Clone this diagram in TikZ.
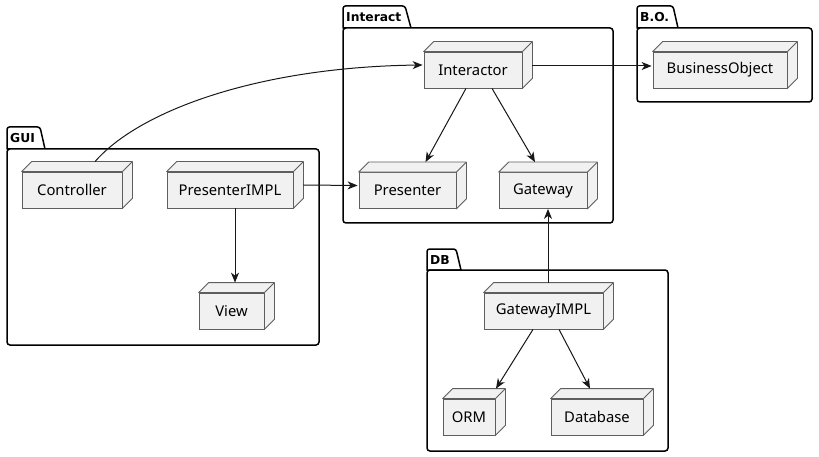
\documentclass[tikz,border=0pt]{standalone}
\usepackage{fontspec}
\setmainfont{Noto Sans}
\newfontfamily\pkgfont{DejaVu Sans}
\usetikzlibrary{arrows.meta,calc}
\definecolor{nodefill}{HTML}{F1F1F1}
\definecolor{nodeline}{HTML}{5E5E5E}
\definecolor{edgecol}{HTML}{181818}
\tikzset{
  nodebox/.style={draw=nodeline, fill=nodefill, line width=0.8pt, inner sep=0pt,
    minimum height=36pt, font=\fontsize{14.8}{17}\selectfont},
  nodeedge/.style={draw=nodeline, fill=nodefill, line width=0.8pt, line join=round},
  pkgline/.style={draw=black, line width=1.5pt, fill=white},
  pkglabel/.style={anchor=west, inner sep=0pt, font=\pkgfont\bfseries\fontsize{12.3}{15}\selectfont},
  conn/.style={draw=edgecol, line width=1pt, -{Stealth[length=10pt,width=8pt,inset=3pt]}}
}
\newcommand{\threed}[1]{%
  \draw[nodeedge] (#1.north west) -- ($(#1.north west)+(10,-10)$) -- ($(#1.north east)+(10,-10)$) -- ($(#1.south east)+(10,-10)$) -- (#1.south east) -- (#1.north east) -- cycle;
  \draw[nodeedge] (#1.north east) -- ($(#1.north east)+(10,-10)$);}
% x0, x1, ytab, ybody, ybottom, xtabtop, xtabbottom
\newcommand{\pkgshape}[7]{%
  \filldraw[pkgline] (#1,#4) [rounded corners=2.5pt]-- (#1,#3) -- (#6,#3) [sharp corners]-- (#7,#4) -- cycle;
  \filldraw[pkgline, rounded corners=3pt] (#1,#4) rectangle (#2,#5);}
\begin{document}
\begin{tikzpicture}[x=1pt,y=-1pt]
\useasboundingbox (0,0) rectangle (819,457);
% packages
\pkgshape{7}{319}{127}{149}{345}{40}{45}
\pkgshape{343}{613}{6}{28}{223}{405}{411}
\pkgshape{637}{812}{6}{28}{102}{673}{678}
\pkgshape{427}{668}{249}{270}{451}{456}{461}
\node[pkglabel] (lgui) at (10,138.5) {GUI};
\node[pkglabel] (lint) at (346,17.5) {Interact};
\node[pkglabel] (lbo) at (640,17.5) {B.O.};
\node[pkglabel] (ldb) at (430,260) {DB};
% nodes
\node[nodebox, minimum width=98pt] (interactor) at (473,70) {Interactor};
\node[nodebox, minimum width=134pt] (bo) at (720,70) {BusinessObject};
\node[nodebox, minimum width=97pt] (presenter) at (407.5,190.5) {Presenter};
\node[nodebox, minimum width=88pt] (gateway) at (543,190.5) {Gateway};
\node[nodebox, minimum width=100pt] (controller) at (72,190) {Controller};
\node[nodebox, minimum width=126pt] (pimpl) at (230,190) {PresenterIMPL};
\node[nodebox, minimum width=65pt] (view) at (231.5,311) {View};
\node[nodebox, minimum width=119pt] (gimpl) at (543.5,311) {GatewayIMPL};
\node[nodebox, minimum width=52pt] (orm) at (469,417) {ORM};
\node[nodebox, minimum width=92pt] (database) at (597,417) {Database};
\foreach \n in {interactor,bo,presenter,gateway,controller,pimpl,view,gimpl,orm,database}{\threed{\n}}
% edges
\draw[conn] ($(controller.north)+(23,-10)$) .. controls (140,110) and (260,67) .. ($(interactor.west)+(-1,-5)$);
\draw[conn] ($(interactor.east)+(10,-4)$) -- ($(bo.west)+(-1,-4)$);
\draw[conn] ($(interactor.south)+(-7,0)$) -- ($(presenter.north)+(18,-10)$);
\draw[conn] ($(interactor.south)+(19,0)$) -- ($(gateway.north)+(-8,-10)$);
\draw[conn] ($(pimpl.east)+(10,-5)$) -- ($(presenter.west)+(-1,-5)$);
\draw[conn] ($(pimpl.south)+(5,0)$) -- ($(view.north)+(3.5,-10)$);
\draw[conn] ($(gimpl.north)+(4.5,-10)$) -- ($(gateway.south)+(5,0)$);
\draw[conn] ($(gimpl.south)+(-10.5,0)$) -- ($(orm.north)+(27,-10)$);
\draw[conn] ($(gimpl.south)+(15.5,0)$) -- ($(database.north)+(-7,-10)$);
\end{tikzpicture}
\end{document}
